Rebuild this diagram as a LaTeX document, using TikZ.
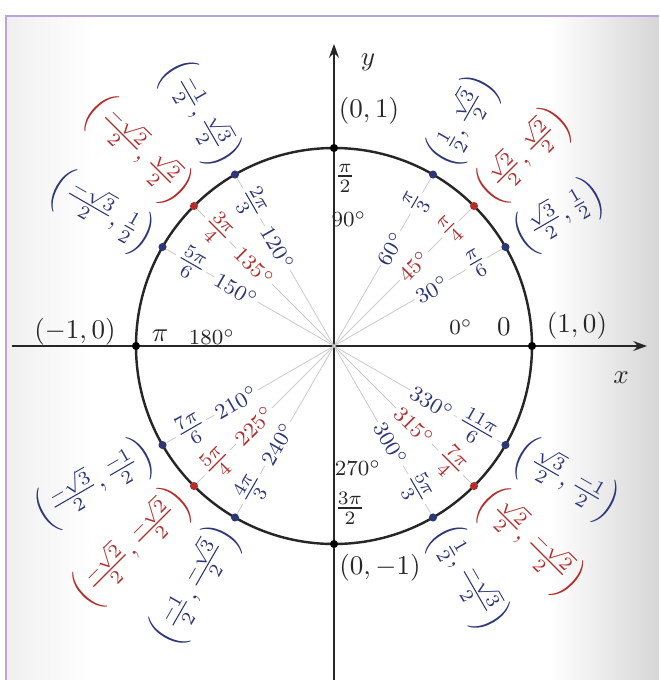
\documentclass[tikz,border=0pt]{standalone}
\usepackage{amsmath}
\usetikzlibrary{arrows.meta}
\definecolor{cblue}{RGB}{45,55,120}
\definecolor{cred}{RGB}{180,45,45}
\definecolor{framec}{RGB}{185,165,220}
\begin{document}
\begin{tikzpicture}[x=0.37pt,y=0.37pt,
  dot/.style={circle,inner sep=0pt,minimum size=3pt,fill=#1},
  spoke/.style={draw=gray!40,line width=0.3pt},
  radlab/.style={inner sep=0.8pt,fill=white},
  deglab/.style={font=\footnotesize,inner sep=0.8pt,fill=white},
  axislab/.style={text=black!85},
  axisline/.style={line width=0.9pt,draw=black!85,-{Stealth[length=5pt,width=3.6pt]}},
]
\useasboundingbox (-334,-334) rectangle (325,346);
\fill[white] (-334,-334) rectangle (325,346);
\shade[left color=black!6, right color=white] (-328,-334) rectangle (-240,330);
\shade[left color=white, right color=black!16] (215,-334) rectangle (325,330);
\draw[framec,line width=0.8pt] (-328,-334) -- (-328,330) -- (325,330);

\coordinate (O) at (0,0);
\coordinate (xl) at (-322,0);
\coordinate (xr) at (313,0);
\coordinate (yb) at (0,-334);
\coordinate (yt) at (0,302);
\draw[axisline] (xl) -- (xr);
\draw[axisline] (yb) -- (yt);
\draw[line width=0.9pt,black!85] (O) circle (198);

% axis points
\node[dot=black] (p0) at (0:198) {};
\node[dot=black] (p90) at (90:198) {};
\node[dot=black] (p180) at (180:198) {};
\node[dot=black] (p270) at (270:198) {};

\node[axislab] (c0) at (243,20) {$(1,0)$};
\node[axislab] (c90) at (35,235) {$(0,1)$};
\node[axislab] (c180) at (-259,14) {$(-1,0)$};
\node[axislab] (c270) at (46,-222) {$(0,-1)$};
\node[axislab] (xlab) at (287,-32) {$x$};
\node[axislab] (ylab) at (34,284) {$y$};

\node[axislab] (r90) at (11,168) {$\frac{\pi}{2}$};
\node[axislab,font=\footnotesize] (d90) at (15,127) {$90^\circ$};
\node[axislab] (r270) at (16,-162) {$\frac{3\pi}{2}$};
\node[axislab,font=\footnotesize] (d270) at (24,-122) {$270^\circ$};
\node[axislab] (r180) at (-174,10) {$\pi$};
\node[axislab,font=\footnotesize] (d180) at (-122,9) {$180^\circ$};
\node[axislab] (r0) at (170,19) {$0$};
\node[axislab,font=\footnotesize] (d0) at (127,19) {$0^\circ$};

% right half
\foreach \a/\c/\rad/\pt in {
  30/cblue/{\frac{\pi}{6}}/{\left(\frac{\sqrt{3}}{2},\frac{1}{2}\right)},
  45/cred/{\frac{\pi}{4}}/{\left(\frac{\sqrt{2}}{2},\frac{\sqrt{2}}{2}\right)},
  60/cblue/{\frac{\pi}{3}}/{\left(\frac{1}{2},\frac{\sqrt{3}}{2}\right)},
  300/cblue/{\frac{5\pi}{3}}/{\left(\frac{1}{2},\frac{-\sqrt{3}}{2}\right)},
  315/cred/{\frac{7\pi}{4}}/{\left(\frac{\sqrt{2}}{2},\frac{-\sqrt{2}}{2}\right)},
  330/cblue/{\frac{11\pi}{6}}/{\left(\frac{\sqrt{3}}{2},\frac{-1}{2}\right)}}
{
  \node[dot=\c] (p\a) at (\a:198) {};
  \draw[spoke] (O) -- (p\a);
  \node[radlab,text=\c,rotate=\a] (r\a) at (\a:165) {$\rad$};
  \node[deglab,text=\c,rotate=\a] (d\a) at (\a:113) {$\a^\circ$};
  \node[text=\c,rotate=\a,anchor=west] (c\a) at (\a:202) {$\pt$};
}
% left half
\foreach \a/\c/\rad/\pt in {
  120/cblue/{\frac{2\pi}{3}}/{\left(\frac{-1}{2},\frac{\sqrt{3}}{2}\right)},
  135/cred/{\frac{3\pi}{4}}/{\left(\frac{-\sqrt{2}}{2},\frac{\sqrt{2}}{2}\right)},
  150/cblue/{\frac{5\pi}{6}}/{\left(\frac{-\sqrt{3}}{2},\frac{1}{2}\right)},
  210/cblue/{\frac{7\pi}{6}}/{\left(\frac{-\sqrt{3}}{2},\frac{-1}{2}\right)},
  225/cred/{\frac{5\pi}{4}}/{\left(\frac{-\sqrt{2}}{2},\frac{-\sqrt{2}}{2}\right)},
  240/cblue/{\frac{4\pi}{3}}/{\left(\frac{-1}{2},\frac{-\sqrt{3}}{2}\right)}}
{
  \node[dot=\c] (p\a) at (\a:198) {};
  \draw[spoke] (O) -- (p\a);
  \node[radlab,text=\c,rotate=\a-180] (r\a) at (\a:165) {$\rad$};
  \node[deglab,text=\c,rotate=\a-180] (d\a) at (\a:113) {$\a^\circ$};
  \node[text=\c,rotate=\a-180,anchor=east] (c\a) at (\a:202) {$\pt$};
}
\end{tikzpicture}
\end{document}
